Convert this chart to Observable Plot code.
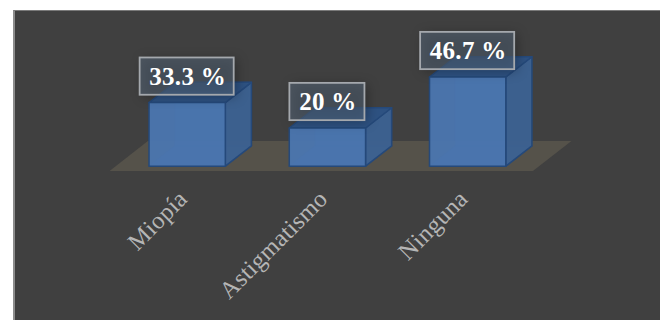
<!DOCTYPE html>
<html lang="es">
<head>
<meta charset="utf-8">
<script src="https://cdn.jsdelivr.net/npm/d3@7"></script>
<script src="https://cdn.jsdelivr.net/npm/@observablehq/plot@0.6"></script>
<style>
  html, body { margin: 0; padding: 0; background: #fff; overflow: hidden; }
  #panel {
    position: absolute; left: 13px; top: 10px; right: 0; bottom: 0;
    background: #404040; border-left: 2px solid #8c8c8c; border-top: 1px solid #7a7a7a;
  }
  #chart { position: absolute; left: 0; top: 0; }
  #chart svg { display: block; }
  #chart svg text { letter-spacing: 0.3px; }
</style>
</head>
<body>
<div id="panel"></div>
<div id="chart"></div>
<script>
// Percentage of people per vision condition
const categories = ["Miopía", "Astigmatismo", "Ninguna"];
const percentages = [33.3, 20, 46.7];

// Oblique projection of the boxes, in scale units
const halfWidth = 0.272;
const depthX = 0.186;
const depthY = 10.6;

const rows = categories.map((name, i) => ({name, i, value: percentages[i], label: `${percentages[i]} %`}));

// One closed polygon per face, keyed by bar
const polygon = (corners) =>
  rows.flatMap((r) => corners(r).map(([x, y]) => ({bar: r.name, x, y})));

const back = polygon(({i, value}) => [
  [i - halfWidth + depthX, depthY], [i + halfWidth + depthX, depthY],
  [i + halfWidth + depthX, value + depthY], [i - halfWidth + depthX, value + depthY]
]);
const bottom = polygon(({i}) => [
  [i - halfWidth, 0], [i + halfWidth, 0],
  [i + halfWidth + depthX, depthY], [i - halfWidth + depthX, depthY]
]);
const side = polygon(({i, value}) => [
  [i + halfWidth, 0], [i + halfWidth + depthX, depthY],
  [i + halfWidth + depthX, value + depthY], [i + halfWidth, value]
]);
const top_ = polygon(({i, value}) => [
  [i - halfWidth, value], [i + halfWidth, value],
  [i + halfWidth + depthX, value + depthY], [i - halfWidth + depthX, value + depthY]
]);
const front = polygon(({i, value}) => [
  [i - halfWidth, 0], [i + halfWidth, 0], [i + halfWidth, value], [i - halfWidth, value]
]);

// Floor plane under the three boxes
const floor = [
  {x: -0.553, y: -2.5}, {x: 2.465, y: -2.5}, {x: 2.74, y: 13.2}, {x: -0.28, y: 13.2}
];

// Label boxes grow with the number of characters
const boxHalf = (r) => 0.132 + 0.0339 * r.label.length;
const labelLift = 13.6;
const labelHalfHeight = 9.76;

const face = (data, fill, extra = {}) =>
  Plot.line(data, {
    x: "x", y: "y", z: "bar", curve: "linear-closed",
    fill, stroke: "#25497a", strokeWidth: 1.5, strokeLinejoin: "round", ...extra
  });

const chart = Plot.plot({
  width: 660,
  height: 320,
  margin: 0,
  style: {background: "transparent"},
  x: {domain: [-1.331, 3.375], axis: null},
  y: {domain: [-80.8, 86.75], axis: null},
  marks: [
    Plot.line(floor, {x: "x", y: "y", curve: "linear-closed", fill: "#55524a", stroke: "none"}),
    face(back, "#3f6aa3", {fillOpacity: 0.45, strokeOpacity: 0.35}),
    face(bottom, "#3f6aa3", {fillOpacity: 0.5, strokeOpacity: 0.35}),
    face(side, "#3c6190", {fillOpacity: 0.96}),
    face(top_, "#2e5282"),
    face(front, "#4a76b0", {fillOpacity: 0.94}),
    // Soft shade cast by the label boxes
    Plot.rect(rows, {
      x1: (r) => r.i - boxHalf(r), x2: (r) => r.i + boxHalf(r),
      y1: (r) => r.value + labelLift - labelHalfHeight, y2: (r) => r.value + labelLift + labelHalfHeight,
      fill: "#000", fillOpacity: 0.3, dx: 3, dy: 2, imageFilter: "blur(6px)"
    }),
    Plot.rect(rows, {
      x1: (r) => r.i - boxHalf(r), x2: (r) => r.i + boxHalf(r),
      y1: (r) => r.value + labelLift - labelHalfHeight, y2: (r) => r.value + labelLift + labelHalfHeight,
      fill: "#5a6c80", fillOpacity: 0.5, stroke: "#a4a8ad", strokeWidth: 1.8
    }),
    Plot.text(rows, {
      x: "i", y: (r) => r.value + labelLift, dx: 0.5, text: "label",
      fontFamily: "Liberation Serif", fontWeight: "bold", fontSize: 25, fill: "#fff"
    }),
    Plot.text(rows, {
      x: "i", y: -15, dx: -4, text: "name", rotate: -45, textAnchor: "end",
      fontFamily: "Liberation Serif", fontSize: 24.5, fill: "#b5b5b5"
    })
  ]
});
document.getElementById("chart").append(chart);
</script>
</body>
</html>
